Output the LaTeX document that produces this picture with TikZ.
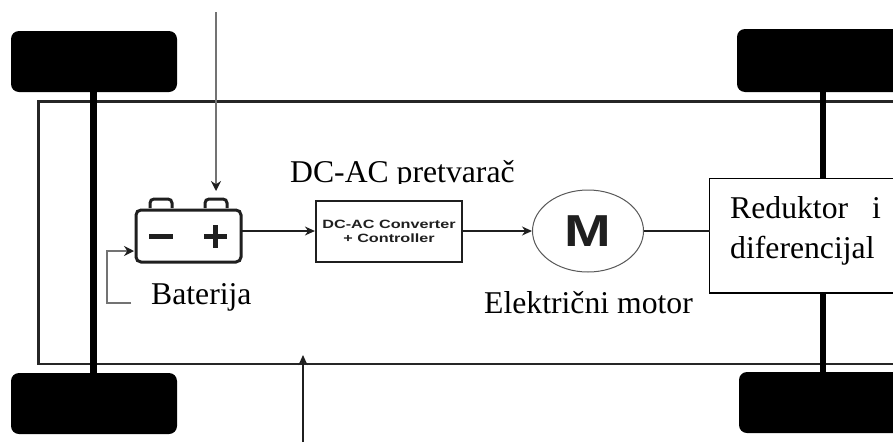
\documentclass[tikz,border=0pt]{standalone}
\usepackage{fontspec}
\setmainfont{Liberation Serif}
\setsansfont{Liberation Sans}
\usetikzlibrary{arrows.meta,shapes.geometric}
\definecolor{softblack}{gray}{0.12}
\definecolor{greyline}{gray}{0.45}
\tikzset{
  x=1pt,y=-1pt,
  wheel/.style={fill=black,draw=none,rounded corners=8pt},
  axle/.style={line width=5.5pt,black},
  wire/.style={line width=1.3pt,softblack,-{Stealth[length=10pt,width=9pt]}},
  greywire/.style={line width=1.3pt,greyline,-{Stealth[length=10pt,width=10pt,color=softblack]}},
  bodyline/.style={line width=2.2pt,black!85},
  label/.style={inner sep=0pt,anchor=base west,font=\fontsize{31.7}{32}\selectfont,text=black},
  conv/.style={draw=softblack,line width=2.2pt,fill=white,minimum width=146pt,minimum height=61pt,inner sep=0pt,align=center,font=\sffamily\bfseries\fontsize{12}{14}\selectfont,text=softblack},
  motorshape/.style={draw=black!65,line width=1pt,fill=white,ellipse,minimum width=111pt,minimum height=82pt,inner sep=0pt,font=\sffamily\bfseries\fontsize{56}{56}\selectfont,text=softblack},
  redbox/.style={draw=black,line width=1.3pt,fill=white},
  symb/.style={line width=5.5pt,softblack},
  battline/.style={line width=3pt,softblack},
}
\begin{document}
\begin{tikzpicture}
\useasboundingbox (0,0) rectangle (893,442);
\fill[white] (0,0) rectangle (893,442);
% wheels
\fill[wheel] (11,31) rectangle (177,92);
\fill[wheel] (11,373) rectangle (177,434);
\fill[wheel] (737,29) rectangle (905,92);
\fill[wheel] (739,372) rectangle (905,433);
% body
\draw[bodyline] (893,101.5) -- (38.5,101.5) -- (38.5,364) -- (893,364);
% axles
\draw[axle,line width=6.5pt] (93.5,92) -- (93.5,373);
\draw[axle] (823,92) -- (823,372);
% reductor
\draw[redbox] (905,178.5) -- (709.5,178.5) -- (709.5,293) -- (905,293);
\coordinate (redin) at (709.5,231);
\node[label] (red1) at (730,218) {Reduktor};
\node[label] (red2) at (872,218) {i};
\node[label] (red3) at (730,258) {diferencijal};
% battery
\draw[battline,rounded corners=5pt] (136,210) rectangle (241,262);
\coordinate (batW) at (135,251);
\coordinate (batE) at (242,231);
\draw[battline,rounded corners=4pt] (150,208) -- (150,199) -- (172,199) -- (172,208);
\draw[battline,rounded corners=4pt] (205,208) -- (205,199) -- (227,199) -- (227,208);
\draw[symb] (149,236.5) -- (173,236.5);
\draw[symb] (204,236.5) -- (227,236.5);
\draw[symb] (215.5,225) -- (215.5,248);
% converter and motor
\node[conv] (conv) at (389,231.2) {\scalebox{1.35}[1]{DC-AC Converter}\\\scalebox{1.35}[1]{+ Controller}};
\node[motorshape] (motor) at (588,231) {\scalebox{1}[0.8]{M}};
% labels
\begin{scope}
\clip (280,150) rectangle (530,183.5);
\node[label] (dclabel) at (290,182) {DC-AC pretvarač};
\end{scope}
\node[label] (batlabel) at (151,304) {Baterija};
\node[label] (motlabel) at (484,313) {Električni motor};
% connectors
\coordinate (topstart) at (216,12);
\coordinate (topend) at (216,191);
\coordinate (botstart) at (303,442);
\coordinate (botend) at (303,355);
\coordinate (loopstart) at (131,303);
\draw[greywire] (topstart) -- (topend);
\draw[wire] (botstart) -- (botend);
\draw[greywire] (loopstart) -- (107,303) -- (107,251) -- ([xshift=-1pt]batW);
\draw[wire] (batE) -- (conv.west |- batE);
\draw[wire] (conv.east |- motor.west) -- (motor.west);
\draw[line width=1.3pt,softblack] (motor.east) -- (redin);
\end{tikzpicture}
\end{document}
